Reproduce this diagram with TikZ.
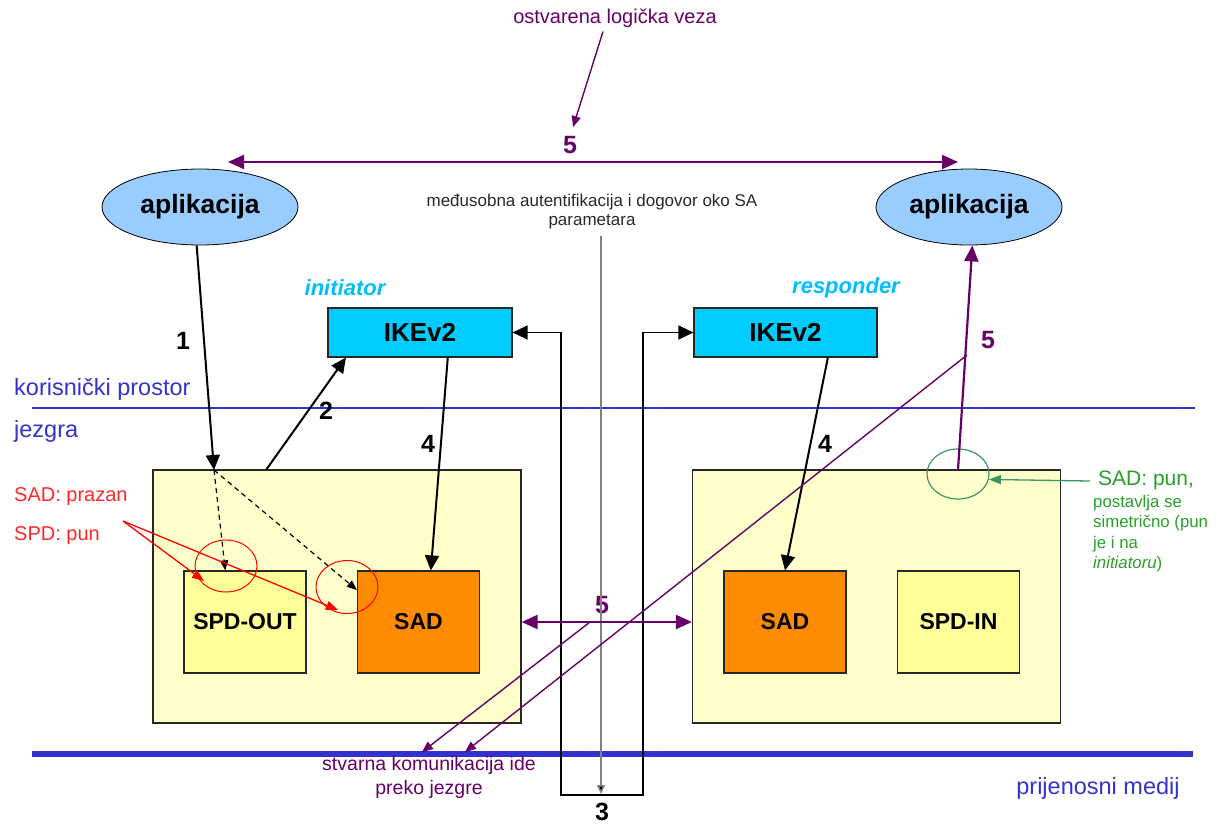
\documentclass[tikz,border=0pt]{standalone}
\usepackage{fontspec}
\setmainfont{Liberation Sans}
\usetikzlibrary{shapes.geometric,arrows.meta,calc}
\definecolor{purp}{RGB}{102,0,102}
\definecolor{blueln}{RGB}{51,51,204}
\definecolor{appfill}{RGB}{153,204,255}
\definecolor{ikefill}{RGB}{0,204,255}
\definecolor{rolecol}{RGB}{0,190,255}
\definecolor{kernfill}{RGB}{255,255,204}
\definecolor{spdfill}{RGB}{255,255,153}
\definecolor{sadfill}{RGB}{255,140,0}
\definecolor{boxline}{RGB}{40,40,40}
\definecolor{redtxt}{RGB}{255,40,40}
\definecolor{grntxt}{RGB}{40,160,40}
\definecolor{grnln}{RGB}{60,150,100}
\definecolor{grayln}{RGB}{130,130,130}
\definecolor{ctrtxt}{RGB}{40,40,40}
\begin{document}
\begin{tikzpicture}[x=1pt,y=-1pt,
  app/.style={ellipse,draw=black,line width=0.8pt,fill=appfill,minimum height=76pt,inner sep=0pt,font=\fontsize{26.5}{30}\selectfont\bfseries},
  ike/.style={rectangle,draw=boxline,line width=1.2pt,fill=ikefill,minimum width=184pt,minimum height=49pt,inner sep=0pt,font=\fontsize{26}{30}\selectfont\bfseries},
  role/.style={text=rolecol,font=\fontsize{22}{26}\selectfont\bfseries\itshape},
  kern/.style={rectangle,draw=boxline,line width=1.2pt,fill=kernfill,minimum width=368pt,minimum height=253pt,inner sep=0pt},
  spd/.style={rectangle,draw=boxline,line width=1.2pt,fill=spdfill,minimum width=122pt,minimum height=102pt,inner sep=0pt,font=\fontsize{23}{27}\selectfont\bfseries},
  sad/.style={spd,fill=sadfill},
  num/.style={font=\fontsize{25}{28}\selectfont\bfseries,inner sep=0pt},
  pnum/.style={num,text=purp},
  bluetxt/.style={text=blueln,font=\fontsize{23.5}{28}\selectfont,inner sep=0pt},
  redlbl/.style={text=redtxt,font=\fontsize{20}{24}\selectfont,inner sep=0pt},
  ptxt/.style={text=purp,font=\fontsize{20}{24}\selectfont,inner sep=0pt,align=center},
  redcirc/.style={ellipse,draw=red,line width=1pt,minimum width=62pt,minimum height=52pt,inner sep=0pt},
  blk/.style={draw=black,line width=2pt,-{Triangle[length=15pt,width=14pt]}},
  dsh/.style={draw=black,line width=1.2pt,dash pattern=on 5pt off 4pt,-{Triangle[length=10pt,width=8pt]}},
  pthick/.style={draw=purp,line width=2.2pt},
  pthin/.style={draw=purp,line width=1.4pt,-{Triangle[length=11pt,width=9pt]}},
  redarr/.style={draw=red,line width=1.3pt,-{Triangle[length=12pt,width=9pt]}},
  ]
\useasboundingbox (0,0) rectangle (1218,825);

% layer lines
\draw[blueln,line width=1.5pt] (32,408) -- (1195,408);
\draw[blueln,line width=6pt] (32,754) -- (1193,754);
\node[bluetxt,anchor=west] (kp) at (14,389) {korisnički prostor};
\node[bluetxt,anchor=west] (jz) at (14,431) {jezgra};
\node[bluetxt] (pm) at (1098,788) {prijenosni medij};

% boxes
\node[kern] (kL) at (337,596.5) {};
\node[kern] (kR) at (876.5,596.5) {};
\node[spd] (spdOut) at (245,622) {SPD-OUT};
\node[sad] (sadL) at (418.5,622) {SAD};
\node[sad] (sadR) at (785,622) {SAD};
\node[spd] (spdIn) at (958.5,622) {SPD-IN};

\node[app,minimum width=196pt] (appL) at (200,207) {aplikacija};
\node[app,minimum width=186pt] (appR) at (969,207) {aplikacija};
\node[ike] (ikeL) at (420,332.5) {IKEv2};
\node[ike,minimum width=183pt] (ikeR) at (785.5,332.5) {IKEv2};
\node[role] (initL) at (345,288) {initiator};
\node[role] (respL) at (846,288) {responder};

% texts
\node[ptxt,font=\fontsize{20}{22}\selectfont] (ostv) at (615,18) {ostvarena logička veza};
\node[align=center,text=ctrtxt,font=\fontsize{17}{19}\selectfont,inner sep=0pt] (ctr) at (592,212) {međusobna autentifikacija i dogovor oko SA\\parametara};
\node[ptxt,font=\fontsize{19.5}{24}\selectfont] (stv) at (429,777) {stvarna komunikacija ide\\preko jezgre};
\node[redlbl,anchor=west] (sadPr) at (14,497) {SAD: prazan};
\node[redlbl,anchor=west] (spdPun) at (14,536) {SPD: pun};
\node[text=grntxt,font=\fontsize{21}{24}\selectfont,inner sep=0pt,anchor=west] (gT) at (1098,480) {SAD: pun,};
\node[text=grntxt,font=\fontsize{16.8}{20.5}\selectfont,inner sep=0pt,anchor=north west,align=left] (gB) at (1093,495) {postavlja se\\simetrično (pun\\je i na\\\textit{initiatoru})};

% numbers
\node[pnum] (n5a) at (570,145) {5};
\node[pnum] (n5b) at (602,605) {5};
\node[pnum] (n5c) at (988,340) {5};
\node[num] (n1) at (183,341) {1};
\node[num] (n2) at (326,411) {2};
\node[num] (n4a) at (428,444) {4};
\node[num] (n4b) at (825,444) {4};
\node[num] (n3) at (602,812) {3};

% coordinates
\coordinate (hub) at (214,470);
\coordinate (a2s) at (266,470);
\coordinate (t1) at (228,162);
\coordinate (t2) at (958,162);
\coordinate (b1) at (561,795);
\coordinate (b2) at (643,795);
\coordinate (g5) at (958,470);
\coordinate (p5) at (967,355);
\coordinate (pmid) at (590,622);
\coordinate (eA) at (465,752);
\coordinate (eB) at (422,752);
\coordinate (redsrc) at (123,521);
\coordinate (r1) at (204,581);
\coordinate (r2) at (338,610);
\coordinate (grayTop) at (601,236);
\coordinate (grayEnd) at (601,794);
\coordinate (gStart) at (1090,481);

% red / green circles
\node[redcirc] (rc1) at (226,566) {};
\node[redcirc,minimum height=53pt] (rc2) at (347,587) {};
\node[ellipse,draw=grnln,line width=1.2pt,minimum width=62pt,minimum height=50pt,inner sep=0pt] (gc) at (958,474) {};

% bracket 3 and gray line
\draw[black,line width=1.4pt,{Triangle[length=15pt,width=14pt]}-{Triangle[length=15pt,width=14pt]}] (ikeL.east) -| (b1) -- (b2) |- (ikeR.west);
\draw[grayln,line width=1.5pt,-{Triangle[length=9pt,width=8pt,fill=black]}] (grayTop) -- (grayEnd);

% black arrows
\draw[blk] (appL.-95) -- (hub);
\draw[blk] (a2s) -- ($(ikeL.south west)!0.1!(ikeL.south east)$);
\draw[blk] ($(ikeL.south west)!0.65!(ikeL.south east)$) -- ($(sadL.north west)!0.6!(sadL.north east)$);
\draw[blk] ($(ikeR.south west)!0.73!(ikeR.south east)$) -- (sadR.north);
\draw[dsh] (hub) -- ($(spdOut.north west)!0.34!(spdOut.north east)$);
\draw[dsh] (hub) -- ($(sadL.north west)!0.19!(sadL.south west)$);

% purple arrows
\draw[pthick,{Triangle[length=16pt,width=14pt]}-{Triangle[length=16pt,width=14pt]}] (t1) -- (t2);
\draw[pthick,{Triangle[length=16pt,width=14pt]}-{Triangle[length=16pt,width=14pt]}] (kL.east |- sadL) -- (kR.west |- sadR);
\draw[pthick,-{Triangle[length=16pt,width=14pt]}] (g5) -- (appR.-85);
\draw[pthin] ($(ostv.south)+(-12,4)$) -- ($(n5a.north)+(3,-9)$);
\draw[pthin] (p5) -- (eA);
\draw[pthin] (pmid) -- (eB);

% red arrows
\draw[redarr] (redsrc) -- (r1);
\draw[redarr] (redsrc) -- (r2);

% green arrow
\draw[grnln,line width=1.3pt,-{Triangle[length=12pt,width=9pt]}] (gStart) -- (gc.-10);
\end{tikzpicture}
\end{document}
